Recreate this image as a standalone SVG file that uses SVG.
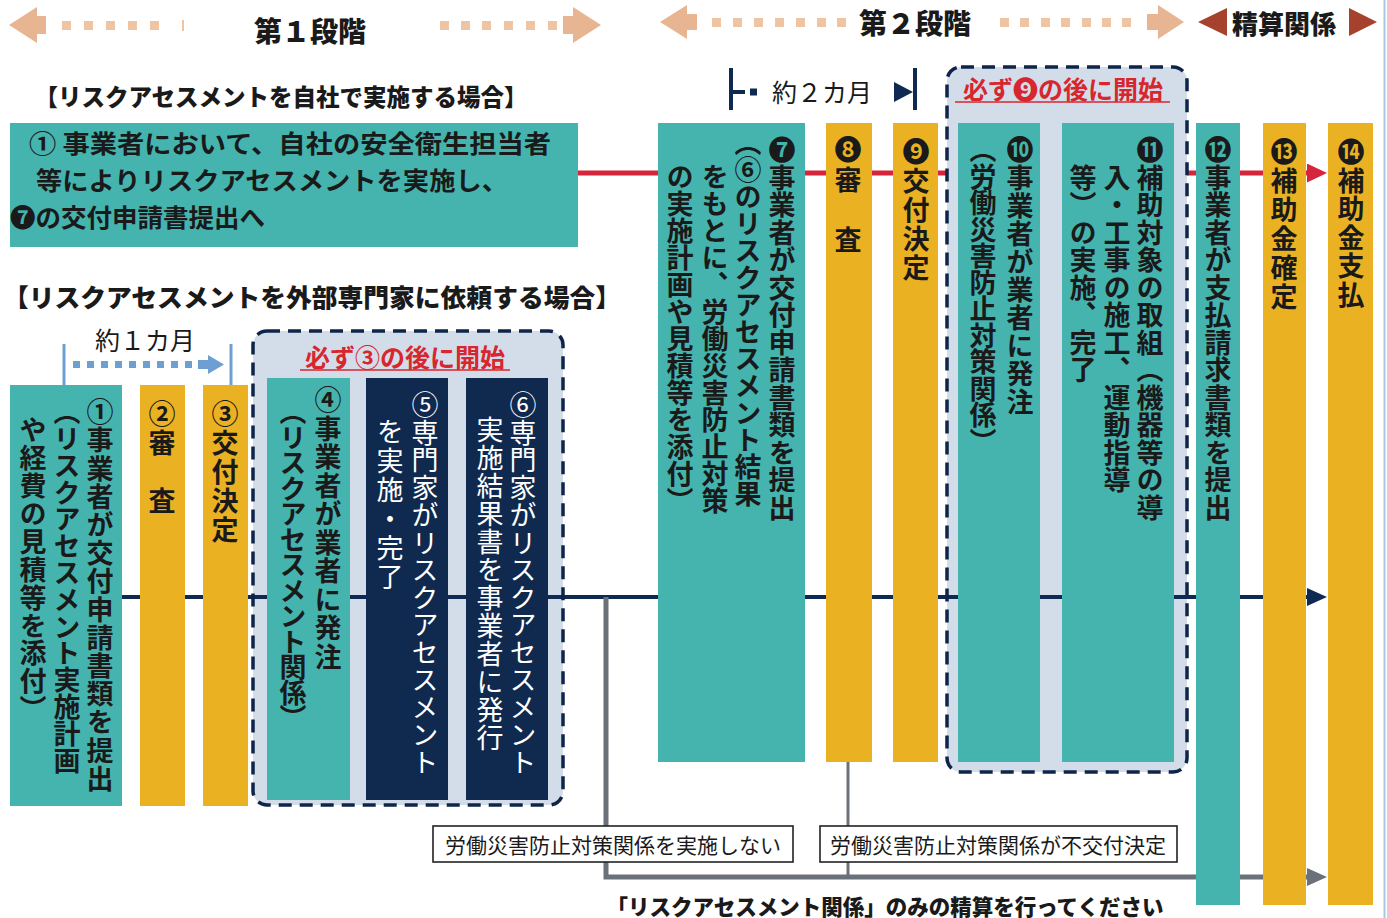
<svg xmlns="http://www.w3.org/2000/svg" width="1387" height="918" viewBox="0 0 1387 918">
<style>
text { font-family: "Noto Sans CJK JP", "Noto Sans CJK SC", sans-serif; fill: #1a1a1a; }
.v { writing-mode: vertical-rl; font-size: 27px; font-weight: 700; }
.vw { writing-mode: vertical-rl; font-size: 27px; font-weight: 400; fill: #ffffff; }
.h { dominant-baseline: central; }
.teal { fill: #45b4ae; }
.gold { fill: #eab223; }
.navy { fill: #10294f; }
.dbox { fill: #d3dde9; }
.dash { fill: none; stroke: #0e2549; stroke-width: 3.5; stroke-dasharray: 13 8; }
.redlab { font-size: 25px; font-weight: 700; fill: #d8262f; text-anchor: middle; dominant-baseline: central; }
.lab { fill: #ffffff; stroke: #222222; stroke-width: 1.6; }
.labt { font-size: 21px; font-weight: 400; text-anchor: middle; dominant-baseline: central; }
.sq { fill: #efc4a2; }
.tan { fill: #e8b592; }
.rust { fill: #a6412d; }
.lb { stroke: #6d9fd2; stroke-width: 3; fill: none; }
.nv { stroke: #0f2a52; stroke-width: 4; fill: none; }
</style>
<defs>
<marker id="mRed" markerUnits="userSpaceOnUse" markerWidth="20" markerHeight="19" viewBox="0 0 20 19" refX="0" refY="9.5" orient="auto"><path d="M0,0 L20,9.5 L0,19 z" fill="#d6243a"/></marker>
<marker id="mNavy" markerUnits="userSpaceOnUse" markerWidth="20" markerHeight="18" viewBox="0 0 20 18" refX="0" refY="9" orient="auto"><path d="M0,0 L20,9 L0,18 z" fill="#0f2a52"/></marker>
<marker id="mGray" markerUnits="userSpaceOnUse" markerWidth="20" markerHeight="18" viewBox="0 0 20 18" refX="0" refY="9" orient="auto"><path d="M0,0 L20,9 L0,18 z" fill="#6b7178"/></marker>
</defs>

<rect x="0" y="0" width="1387" height="918" fill="#ffffff"/>
<line x1="1384.5" y1="0" x2="1384.5" y2="918" stroke="#a6c8e6" stroke-width="2"/>

<!-- banner -->
<g id="banner">
  <polygon class="tan" points="9,25 37,7 37,16 46,16 46,34 37,34 37,43"/>
  <rect class="sq" x="62" y="21" width="9" height="9"/>
  <rect class="sq" x="84" y="21" width="9" height="9"/>
  <rect class="sq" x="106" y="21" width="9" height="9"/>
  <rect class="sq" x="128" y="21" width="9" height="9"/>
  <rect class="sq" x="150" y="21" width="9" height="9"/>
  <rect class="sq" x="182" y="20" width="2" height="11"/>
  <text class="h" x="310" y="30" font-size="28" font-weight="900" text-anchor="middle">第１段階</text>
  <rect class="sq" x="440" y="21" width="9" height="9"/>
  <rect class="sq" x="461" y="21" width="9" height="9"/>
  <rect class="sq" x="482" y="21" width="9" height="9"/>
  <rect class="sq" x="504" y="21" width="9" height="9"/>
  <rect class="sq" x="526" y="21" width="9" height="9"/>
  <rect class="sq" x="548" y="21" width="9" height="9"/>
  <polygon class="tan" points="601,25 573,7 573,16 563,16 563,34 573,34 573,43"/>

  <polygon class="tan" points="660,22 687,5 687,14 697,14 697,30 687,30 687,39"/>
  <rect class="sq" x="712" y="18" width="9" height="9"/>
  <rect class="sq" x="733" y="18" width="9" height="9"/>
  <rect class="sq" x="754" y="18" width="9" height="9"/>
  <rect class="sq" x="775" y="18" width="9" height="9"/>
  <rect class="sq" x="796" y="18" width="9" height="9"/>
  <rect class="sq" x="817" y="18" width="9" height="9"/>
  <rect class="sq" x="837" y="18" width="9" height="9"/>
  <text class="h" x="915" y="22" font-size="28" font-weight="900" text-anchor="middle">第２段階</text>
  <rect class="sq" x="1000" y="18" width="9" height="9"/>
  <rect class="sq" x="1020" y="18" width="9" height="9"/>
  <rect class="sq" x="1041" y="18" width="9" height="9"/>
  <rect class="sq" x="1061" y="18" width="9" height="9"/>
  <rect class="sq" x="1082" y="18" width="9" height="9"/>
  <rect class="sq" x="1102" y="18" width="9" height="9"/>
  <rect class="sq" x="1122" y="18" width="9" height="9"/>
  <polygon class="tan" points="1184,22 1158,5 1158,14 1147,14 1147,30 1158,30 1158,39"/>

  <polygon class="rust" points="1198,22 1227,8 1227,36"/>
  <text class="h" x="1284" y="22" font-size="26" font-weight="900" text-anchor="middle">精算関係</text>
  <polygon class="rust" points="1377,22 1349,8 1349,36"/>
</g>

<!-- headings -->
<text class="h" x="281" y="96" font-size="23.5" font-weight="900" text-anchor="middle" textLength="493" lengthAdjust="spacingAndGlyphs">【リスクアセスメントを自社で実施する場合】</text>
<text class="h" x="312" y="296" font-size="25" font-weight="900" text-anchor="middle" textLength="618" lengthAdjust="spacingAndGlyphs">【リスクアセスメントを外部専門家に依頼する場合】</text>

<!-- duration annotations -->
<g id="dur1">
  <line class="lb" x1="64" y1="344" x2="64" y2="386"/>
  <line class="lb" x1="231" y1="344" x2="231" y2="386"/>
  <g fill="#6d9fd2">
    <rect x="73" y="361" width="7" height="7"/><rect x="87" y="361" width="7" height="7"/>
    <rect x="101" y="361" width="7" height="7"/><rect x="115" y="361" width="7" height="7"/>
    <rect x="129" y="361" width="7" height="7"/><rect x="143" y="361" width="7" height="7"/>
    <rect x="157" y="361" width="7" height="7"/><rect x="171" y="361" width="7" height="7"/>
    <rect x="185" y="361" width="7" height="7"/>
    <polygon points="198,360 208,360 208,355 224,364.5 208,374 208,369 198,369"/>
  </g>
  <text class="h" x="145" y="339" font-size="25" font-weight="400" text-anchor="middle">約１カ月</text>
</g>
<g id="dur2">
  <line class="nv" x1="731" y1="68" x2="731" y2="110"/>
  <line class="nv" x1="731" y1="92" x2="745" y2="92"/>
  <rect x="750" y="88.5" width="7" height="7" fill="#0f2a52"/>
  <text class="h" x="822" y="91" font-size="25" font-weight="400" text-anchor="middle">約２カ月</text>
  <polygon points="894,82 913,92 894,102" fill="#0f2a52"/>
  <line class="nv" x1="915" y1="68" x2="915" y2="110"/>
</g>

<!-- dashed group backgrounds -->
<rect id="grp1-bg" class="dbox" x="253" y="331" width="310" height="474" rx="14"/>
<rect id="grp2-bg" class="dbox" x="947" y="67" width="240" height="705" rx="14"/>

<!-- connectors -->
<g id="connectors">
  <path d="M578,173 H947" stroke="#d6243a" stroke-width="5" fill="none"/>
  <path d="M1187,173 H1307" stroke="#d6243a" stroke-width="5" fill="none" marker-end="url(#mRed)"/>
  <path d="M122,597 H1307" stroke="#0f2a52" stroke-width="4" fill="none" marker-end="url(#mNavy)"/>
  <path d="M606,597 V877 H1307" stroke="#6b7178" stroke-width="5" fill="none" marker-end="url(#mGray)"/>
  <path d="M848,762 V877" stroke="#6b7178" stroke-width="3" fill="none"/>
</g>

<!-- top box -->
<g id="n-self">
  <rect class="teal" x="10" y="123" width="568" height="124"/>
  <text class="h" x="29" y="141" font-size="25.5" font-weight="700" textLength="522" lengthAdjust="spacingAndGlyphs">① 事業者において、自社の安全衛生担当者</text>
  <text class="h" x="36" y="178" font-size="25.5" font-weight="700" textLength="472" lengthAdjust="spacingAndGlyphs">等によりリスクアセスメントを実施し、</text>
  <text class="h" x="10" y="215" font-size="25.5" font-weight="700">❼の交付申請書提出へ</text>
</g>

<!-- lower nodes -->
<g id="n1">
  <rect class="teal" x="10" y="385" width="112" height="421"/>
  <text class="v" x="100" y="398.5" letter-spacing="1.2">①事業者が交付申請書類を提出</text>
  <text class="v" x="67" y="398.5" letter-spacing="-0.2">（リスクアセスメント実施計画</text>
  <text class="v" x="33" y="416.5" letter-spacing="0.9">や経費の見積等を添付）</text>
</g>
<g id="n2">
  <rect class="gold" x="140" y="385" width="45" height="421"/>
  <text class="v" x="162" y="400.5" letter-spacing="2">②審　査</text>
</g>
<g id="n3">
  <rect class="gold" x="203" y="385" width="45" height="421"/>
  <text class="v" x="225" y="400.5" letter-spacing="2">③交付決定</text>
</g>
<g id="n4">
  <rect class="teal" x="267" y="378" width="83" height="422"/>
  <text class="v" x="328" y="386.5" letter-spacing="1.5">④事業者が業者に発注</text>
  <text class="v" x="293" y="398.5" letter-spacing="-1.5">（リスクアセスメント関係）</text>
</g>
<g id="n5">
  <rect class="navy" x="366" y="378" width="82" height="422"/>
  <text class="vw" x="425" y="391.5" letter-spacing="0.5">⑤専門家がリスクアセスメント</text>
  <text class="vw" x="390" y="418.5" letter-spacing="2">を実施・完了</text>
</g>
<g id="n6">
  <rect class="navy" x="466" y="378" width="82" height="422"/>
  <text class="vw" x="523" y="391.5" letter-spacing="0.5">⑥専門家がリスクアセスメント</text>
  <text class="vw" x="490" y="416.5" letter-spacing="1">実施結果書を事業者に発行</text>
</g>
<g id="n7">
  <rect class="teal" x="658" y="123" width="147" height="639"/>
  <text class="v" x="782" y="136.5" letter-spacing="0.5">❼事業者が交付申請書類を提出</text>
  <text class="v" x="748" y="129.5">（⑥のリスクアセスメント結果</text>
  <text class="v" x="715" y="163.5">をもとに、労働災害防止対策</text>
  <text class="v" x="680" y="163.5">の実施計画や見積等を添付）</text>
</g>
<g id="n8">
  <rect class="gold" x="826" y="123" width="46" height="639"/>
  <text class="v" x="848" y="136.5" letter-spacing="3">❽審　査</text>
</g>
<g id="n9">
  <rect class="gold" x="893" y="123" width="45" height="639"/>
  <text class="v" x="916" y="138.5" letter-spacing="2">❾交付決定</text>
</g>
<g id="n10">
  <rect class="teal" x="958" y="123" width="82" height="639"/>
  <text class="v" x="1020" y="136.5" letter-spacing="1">❿事業者が業者に発注</text>
  <text class="v" x="983" y="136.5" letter-spacing="-0.5">（労働災害防止対策関係）</text>
</g>
<g id="n11">
  <rect class="teal" x="1062" y="123" width="112" height="639"/>
  <text class="v" x="1150" y="136.5" letter-spacing="0.5">⓫補助対象の取組（機器等の導</text>
  <text class="v" x="1117" y="164" letter-spacing="0.5">入・工事の施工、運動指導</text>
  <text class="v" x="1083" y="164" letter-spacing="0.5">等）の実施、完了</text>
</g>
<g id="n12">
  <rect class="teal" x="1196" y="123" width="44" height="782"/>
  <text class="v" x="1218" y="136.5" letter-spacing="0.5">⓬事業者が支払請求書類を提出</text>
</g>
<g id="n13">
  <rect class="gold" x="1263" y="123" width="43" height="782"/>
  <text class="v" x="1284" y="138.5" letter-spacing="2">⓭補助金確定</text>
</g>
<g id="n14">
  <rect class="gold" x="1328" y="123" width="45" height="782"/>
  <text class="v" x="1351" y="138.5" letter-spacing="1.5">⓮補助金支払</text>
</g>

<!-- dashed group borders and labels -->
<g id="grp1">
  <rect class="dash" x="253" y="331" width="310" height="474" rx="14"/>
  <text class="redlab" x="405" y="356">必ず③の後に開始</text>
  <line x1="300" y1="370" x2="510" y2="370" stroke="#d8262f" stroke-width="1.5"/>
</g>
<g id="grp2">
  <rect class="dash" x="947" y="67" width="240" height="705" rx="14"/>
  <text class="redlab" x="1063" y="88">必ず❾の後に開始</text>
  <line x1="955" y1="102" x2="1170" y2="102" stroke="#d8262f" stroke-width="1.5"/>
</g>

<!-- condition labels -->
<g id="cond1">
  <rect class="lab" x="433" y="826" width="360" height="36"/>
  <text class="labt" x="613" y="844">労働災害防止対策関係を実施しない</text>
</g>
<g id="cond2">
  <rect class="lab" x="820" y="826" width="357" height="36"/>
  <text class="labt" x="998" y="844">労働災害防止対策関係が不交付決定</text>
</g>
<text class="h" x="885" y="905" font-size="21.5" font-weight="900" text-anchor="middle">「リスクアセスメント関係」のみの精算を行ってください</text>
</svg>
